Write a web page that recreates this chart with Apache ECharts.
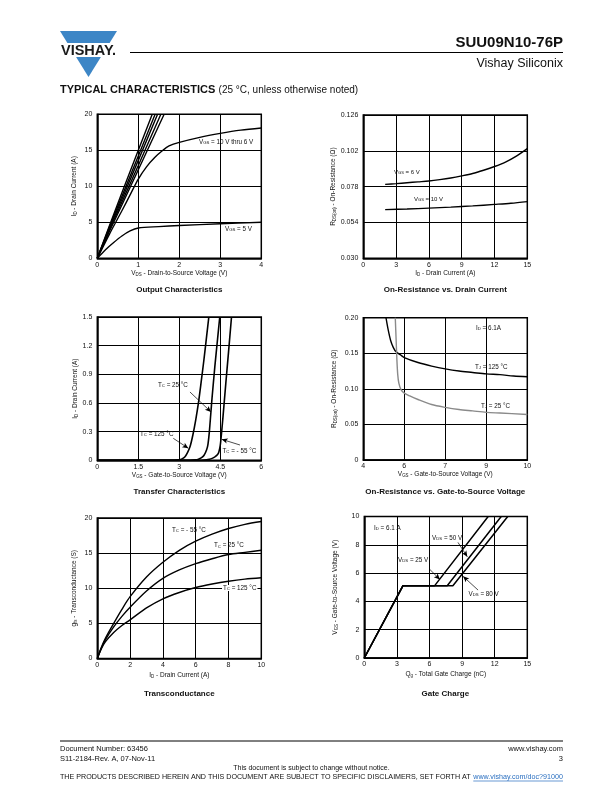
<!DOCTYPE html>
<html><head><meta charset="utf-8">
<script src="https://cdn.jsdelivr.net/npm/echarts@6/dist/echarts.min.js"></script>
<style>html,body{margin:0;padding:0;background:#fff}#c{width:612px;height:792px}</style>
</head><body><div id="c"></div>
<script>
// ---------------- DATA ----------------
// Output Characteristics (VDS V, ID A)
const out10V = [[0,0],[0.3,4.6],[0.6,9.1],[1.0,15.0],[1.34,20]];
const out9V  = [[0,0],[0.3,4.4],[0.6,8.6],[1.0,14.2],[1.41,20]];
const out8V  = [[0,0],[0.3,4.2],[0.6,8.2],[1.0,13.6],[1.47,20]];
const out7V  = [[0,0],[0.3,4.0],[0.6,7.8],[1.0,12.9],[1.55,20]];
const out65V = [[0,0],[0.3,3.8],[0.6,7.4],[1.0,12.3],[1.63,20]];
const out6V  = [[0,0],[0.3,3.4],[0.6,6.6],[0.8,8.8],[1.0,11.0],[1.2,12.7],[1.4,14.0],[1.6,15.0],[1.75,15.6],[2,16.1],[2.5,16.8],[3,17.35],[3.5,17.8],[4,18.1]];
const out5V  = [[0,0],[0.2,1.2],[0.4,2.2],[0.6,3.1],[0.8,3.8],[1,4.2],[1.5,4.4],[2,4.55],[3,4.8],[4,5.0]];
const c1XTicks = ['0','1','2','3','4'];
const c1YTicks = ['0','5','10','15','20'];

// On-Resistance vs Drain Current (ID A, RDS ohm)
const ron6V  = [[2,0.0795],[3,0.0800],[4,0.0806],[5,0.0812],[6,0.0818],[7,0.0827],[8,0.0838],[9,0.0852],[10,0.0868],[11,0.0890],[12,0.0915],[13,0.0945],[14,0.0985],[15,0.1035]];
const ron10V = [[2,0.0626],[4,0.0630],[6,0.0636],[8,0.0643],[10,0.0651],[12,0.0661],[13.5,0.0669],[15,0.0680]];
const c2XTicks = ['0','3','6','9','12','15'];
const c2YTicks = ['0.030','0.054','0.078','0.102','0.126'];

// Transfer Characteristics (VGS V, ID A)
const tr125 = [[0,0],[2.8,0],[3.0,0.005],[3.1,0.015],[3.2,0.035],[3.3,0.08],[3.4,0.15],[3.5,0.27],[3.6,0.42],[3.7,0.6],[3.8,0.82],[3.9,1.05],[4.0,1.3],[4.08,1.5]];
const tr25  = [[0,0],[3.4,0],[3.6,0.005],[3.7,0.012],[3.8,0.025],[3.9,0.05],[4.0,0.11],[4.05,0.17],[4.1,0.3],[4.15,0.48],[4.2,0.66],[4.3,0.98],[4.4,1.27],[4.48,1.5]];
const trM55 = [[0,0],[3.8,0],[4.0,0.004],[4.1,0.01],[4.2,0.02],[4.3,0.035],[4.4,0.06],[4.45,0.09],[4.5,0.16],[4.55,0.3],[4.6,0.46],[4.7,0.8],[4.8,1.13],[4.91,1.5]];
const c3XTicks = ['0','1.5','3','4.5','6'];
const c3YTicks = ['0','0.3','0.6','0.9','1.2','1.5'];
const c3Arrows = [[[3.39,0.715],[4.16,0.506]],[[2.78,0.23],[3.33,0.126]],[[5.22,0.16],[4.55,0.22]]];

// On-Resistance vs Gate-to-Source Voltage (VGS V, RDS ohm)
const rg125 = [[4.83,0.2],[4.9,0.185],[5.0,0.168],[5.1,0.158],[5.2,0.152],[5.35,0.148],[5.5,0.144],[6,0.137],[6.5,0.132],[7,0.128],[7.5,0.125],[8,0.123],[8.5,0.121],[9,0.12],[9.5,0.118],[10,0.117]];
const rg25  = [[5.17,0.2],[5.2,0.17],[5.23,0.14],[5.26,0.12],[5.3,0.108],[5.38,0.099],[5.5,0.094],[5.7,0.09],[6,0.085],[6.5,0.078],[7,0.074],[7.5,0.071],[8,0.069],[8.5,0.067],[9,0.066],[10,0.064]];
const c4XTickVals = [4,5.5,7,8.5,10];
const c4XTicks = ['4','6','7','9','10'];
const c4YTicks = ['0','0.05','0.10','0.15','0.20'];

// Transconductance (ID A, gfs S)
const gfsM55 = [[0,0],[0.25,1.6],[0.5,2.9],[1,5.0],[1.5,7.0],[2,8.8],[3,11.6],[4,13.7],[5,15.4],[6,16.7],[7,17.7],[8,18.5],[9,19.1],[10,19.5]];
const gfs25  = [[0,0],[0.25,1.5],[0.5,2.7],[1,4.5],[1.5,6.0],[2,7.3],[3,9.6],[4,11.4],[5,12.6],[6,13.5],[7,14.2],[8,14.8],[9,15.1],[10,15.4]];
const gfs125 = [[0,0],[0.25,1.4],[0.5,2.4],[1,3.7],[1.5,4.7],[2,5.5],[3,7.2],[4,8.5],[5,9.4],[6,10.1],[7,10.6],[8,11.0],[9,11.3],[10,11.5]];
const c5XTicks = ['0','2','4','6','8','10'];
const c5YTicks = ['0','5','10','15','20'];

// Gate Charge (Qg nC, VGS V)
const qg25 = [[0,0],[3.55,5.1],[6.46,5.1],[11.4,10]];
const qg50 = [[0,0],[3.55,5.1],[7.63,5.1],[12.6,10]];
const qg80 = [[0,0],[3.55,5.1],[8.15,5.1],[13.2,10]];
const c6XTicks = ['0','3','6','9','12','15'];
const c6YTicks = ['0','2','4','6','8','10'];
const c6Arrows = [[[8.62,8.17],[9.48,7.15]],[[6.0,6.28],[6.96,5.55]],[[10.47,4.8],[9.09,5.77]]];

// ---------------- RENDER ----------------
const FF = '"Liberation Sans", Arial, Helvetica, sans-serif';
const chart = echarts.init(document.getElementById('c'), null, {renderer:'canvas'});

function rich(fs){
  return {
    n:{fontSize:fs, fontFamily:FF, color:'#111', fill:'#111'},
    s:{fontSize:fs*0.68, fontFamily:FF, color:'#111', fill:'#111', verticalAlign:'bottom'}
  };
}
function sub(a,b,c){ return '{n|'+a+'}{s|'+b+'}{n|'+c+'}'; }

function fmt(labels, vals){
  return function(v){
    if (vals){ const i = vals.findIndex(t=>Math.abs(t-v)<1e-6); return i>=0?labels[i]:''; }
    return labels.find(l=>Math.abs(parseFloat(l)-v)<1e-6) || '';
  };
}
function xAx(gi,min,max,interval,labels,name,gap,vals){
  return {type:'value',gridIndex:gi,min,max,interval,
    axisLine:{show:true,onZero:false,lineStyle:{color:'#000',width:1.5}},
    axisTick:{show:false},
    splitLine:{show:true,lineStyle:{color:'#000',width:1}},
    axisLabel:{color:'#111',fontSize:7,fontFamily:FF,margin:3,formatter:fmt(labels,vals),showMinLabel:true,showMaxLabel:true},
    name,nameLocation:'middle',nameGap:gap,nameTextStyle:{fontSize:6.5,fontFamily:FF,color:'#111',rich:rich(6.5)}};
}
function yAx(gi,min,max,interval,labels,name,gap){
  return {type:'value',gridIndex:gi,min,max,interval,
    axisLine:{show:true,onZero:false,lineStyle:{color:'#000',width:1.5}},
    axisTick:{show:false},
    splitLine:{show:true,lineStyle:{color:'#000',width:1}},
    axisLabel:{color:'#111',fontSize:7,fontFamily:FF,margin:5,formatter:fmt(labels),showMinLabel:true,showMaxLabel:true},
    name,nameLocation:'middle',nameGap:gap,nameTextStyle:{fontSize:6.5,fontFamily:FF,color:'#111',rich:rich(6.5)}};
}
function ln(data,gi,opts){
  return Object.assign({type:'line',data,xAxisIndex:gi,yAxisIndex:gi,showSymbol:false,symbol:'none',
    lineStyle:{color:'#000',width:1.4},smooth:false,clip:true,animation:false,silent:true},opts||{});
}
function arrows(list){
  return {silent:true,symbol:['none','arrow'],symbolSize:[4,6],animation:false,
    lineStyle:{color:'#000',width:0.7,type:'solid'},label:{show:false},
    data:list.map(a=>[{coord:a[0]},{coord:a[1]}])};
}

const grids = [
  {left:97.3,top:114.3,width:164,height:144},
  {left:363.3,top:115,width:164,height:143.3},
  {left:97.3,top:317,width:164,height:143.3},
  {left:363.3,top:317.7,width:164,height:142.3},
  {left:97.3,top:518,width:164,height:140.5},
  {left:364.3,top:516.5,width:163,height:141.5}
].map(g=>Object.assign({show:true,borderColor:'#000',borderWidth:1.5,backgroundColor:'transparent',containLabel:false},g));

const xAxes = [
  xAx(0,0,4,1,c1XTicks,sub('V','DS',' - Drain-to-Source Voltage (V)'),11),
  xAx(1,0,15,3,c2XTicks,sub('I','D',' - Drain Current (A)'),11),
  xAx(2,0,6,1.5,c3XTicks,sub('V','GS',' - Gate-to-Source Voltage (V)'),11),
  xAx(3,4,10,1.5,c4XTicks,sub('V','GS',' - Gate-to-Source Voltage (V)'),11,c4XTickVals),
  xAx(4,0,10,2,c5XTicks,sub('I','D',' - Drain Current (A)'),13),
  xAx(5,0,15,3,c6XTicks,sub('Q','g',' - Total Gate Charge (nC)'),13)
];
const yAxes = [
  yAx(0,0,20,5,c1YTicks,sub('I','D',' - Drain Current (A)'),20),
  yAx(1,0.030,0.126,0.024,c2YTicks,sub('R','DS(on)',' - On-Resistance (Ω)'),27),
  yAx(2,0,1.5,0.3,c3YTicks,sub('I','D',' - Drain Current (A)'),19),
  yAx(3,0,0.20,0.05,c4YTicks,sub('R','DS(on)',' - On-Resistance (Ω)'),26),
  yAx(4,0,20,5,c5YTicks,sub('g','fs',' - Transconductance (S)'),20),
  yAx(5,0,10,2,c6YTicks,sub('V','GS',' - Gate-to-Source Voltage (V)'),26)
];

const series = [
  ln(out10V,0),ln(out9V,0),ln(out8V,0),ln(out7V,0),ln(out65V,0),
  ln(out6V,0,{smooth:0.3}),ln(out5V,0,{smooth:0.3}),
  ln(ron6V,1,{smooth:0.3}),ln(ron10V,1,{smooth:0.3}),
  ln(tr125,2,{smooth:0.25,lineStyle:{color:'#000',width:1.6},markLine:arrows(c3Arrows)}),
  ln(tr25,2,{smooth:0.25,lineStyle:{color:'#000',width:1.6}}),
  ln(trM55,2,{smooth:0.25,lineStyle:{color:'#000',width:1.6}}),
  ln(rg125,3,{smooth:0.3}),
  ln(rg25,3,{smooth:0.3,lineStyle:{color:'#8a8a8a',width:1.4}}),
  ln(gfsM55,4,{smooth:0.3}),ln(gfs25,4,{smooth:0.3}),ln(gfs125,4,{smooth:0.3}),
  ln(qg25,5,{lineStyle:{color:'#000',width:1.5},markLine:arrows(c6Arrows)}),
  ln(qg50,5,{lineStyle:{color:'#000',width:1.5}}),
  ln(qg80,5,{lineStyle:{color:'#000',width:1.5}})
];

// ---------- graphic: header, titles, annotations, footer ----------
const G = [];
function txt(x,y,text,o){
  o=o||{};
  G.push({type:'text',x,y,silent:true,z:100,style:Object.assign({text,fill:'#111',font:(o.weight||'normal')+' '+(o.size||7)+'px '+FF,
    align:o.align||'left',verticalAlign:'middle'},o.style||{})});
}
function rtxt(x,y,text,size,extra){
  G.push({type:'text',x,y,silent:true,z:100,style:Object.assign({text,fill:'#111',font:size+'px '+FF,align:'left',verticalAlign:'middle',rich:rich(size)},extra||{})});
}
// logo
const BLUE = '#3d86c6';
G.push({type:'polygon',silent:true,shape:{points:[[60,31],[117,31],[109.6,43],[67.4,43]]},style:{fill:BLUE}});
G.push({type:'polygon',silent:true,shape:{points:[[76.1,57],[100.9,57],[88.5,77]]},style:{fill:BLUE}});
txt(88.5,50.5,'VISHAY.',{weight:'bold',size:14.5,align:'center',style:{fill:'#1a1a1a'}});
// header line and titles
G.push({type:'line',silent:true,shape:{x1:130,y1:52.5,x2:563,y2:52.5},style:{stroke:'#000',lineWidth:1}});
txt(563,43,'SUU09N10-76P',{weight:'bold',size:15,align:'right'});
txt(563,64,'Vishay Siliconix',{size:12.5,align:'right'});
G.push({type:'text',x:60,y:90,silent:true,style:{text:'{b|TYPICAL CHARACTERISTICS} {r|(25 °C, unless otherwise noted)}',
  verticalAlign:'middle',rich:{b:{font:'bold 11px '+FF,fill:'#111'},r:{font:'10px '+FF,fill:'#111'}}}});

// chart titles
txt(179.3,290,'Output Characteristics',{weight:'bold',size:8,align:'center'});
txt(445.3,290,'On-Resistance vs. Drain Current',{weight:'bold',size:8,align:'center'});
txt(179.3,492,'Transfer Characteristics',{weight:'bold',size:8,align:'center'});
txt(445.3,492,'On-Resistance vs. Gate-to-Source Voltage',{weight:'bold',size:8,align:'center'});
txt(179.3,694,'Transconductance',{weight:'bold',size:8,align:'center'});
txt(445.3,694,'Gate Charge',{weight:'bold',size:8,align:'center'});

// annotations
rtxt(199,142,sub('V','GS',' = 10 V thru 6 V'),6.3);
rtxt(225,229,sub('V','GS',' = 5 V'),6.3);
rtxt(394,172,sub('V','GS',' = 6 V'),6);
rtxt(414,199,sub('V','GS',' = 10 V'),6);
rtxt(158,385,sub('T','C',' = 25 °C'),6.3);
rtxt(140,434,sub('T','C',' = 125 °C'),6.3);
rtxt(222.5,451,sub('T','C',' = - 55 °C'),6.3);
rtxt(476,328,sub('I','D',' = 6.1A'),6.3);
rtxt(475,367,sub('T','J',' = 125 °C'),6.3);
rtxt(481,406,sub('T','J',' = 25 °C'),6.3);
rtxt(172,530,sub('T','C',' = - 55 °C'),6.3);
rtxt(214,545.5,sub('T','C',' = 25 °C'),6.3);
rtxt(222,588,sub('T','C',' = 125 °C'),6.3,{backgroundColor:'#fff',padding:[0,1,0,1]});
rtxt(374,528,sub('I','D',' = 6.1 A'),6.3);
rtxt(432,538,sub('V','DS',' = 50 V'),6.3);
rtxt(398,560,sub('V','DS',' = 25 V'),6.3);
rtxt(468.5,594,sub('V','DS',' = 80 V'),6.3);

// footer
G.push({type:'line',silent:true,shape:{x1:60,y1:741,x2:563,y2:741},style:{stroke:'#000',lineWidth:1}});
txt(60,749,'Document Number: 63456',{size:7.5});
txt(60,759,'S11-2184-Rev. A, 07-Nov-11',{size:7.5});
txt(563,749,'www.vishay.com',{size:7.5,align:'right'});
txt(563,759,'3',{size:7.5,align:'right'});
txt(311.5,768,'This document is subject to change without notice.',{size:7,align:'center'});
const disc = 'THE PRODUCTS DESCRIBED HEREIN AND THIS DOCUMENT ARE SUBJECT TO SPECIFIC DISCLAIMERS, SET FORTH AT ';
const link = 'www.vishay.com/doc?91000';
const cv = document.createElement('canvas').getContext('2d');
cv.font = '7px '+FF;
const wDisc = cv.measureText(disc).width, wLink = cv.measureText(link).width;
const fsF = 7*503/(wDisc+wLink);
const linkX = 60 + wDisc*fsF/7;
txt(60,777,disc,{size:fsF});
txt(linkX,777,link,{size:fsF,style:{fill:'#2a6fc0'}});
G.push({type:'line',silent:true,shape:{x1:linkX,y1:781,x2:563,y2:781},style:{stroke:'#2a6fc0',lineWidth:0.7}});

chart.setOption({
  animation:false,
  backgroundColor:'#fff',
  grid:grids, xAxis:xAxes, yAxis:yAxes, series, graphic:G
});
</script>
</body></html>
